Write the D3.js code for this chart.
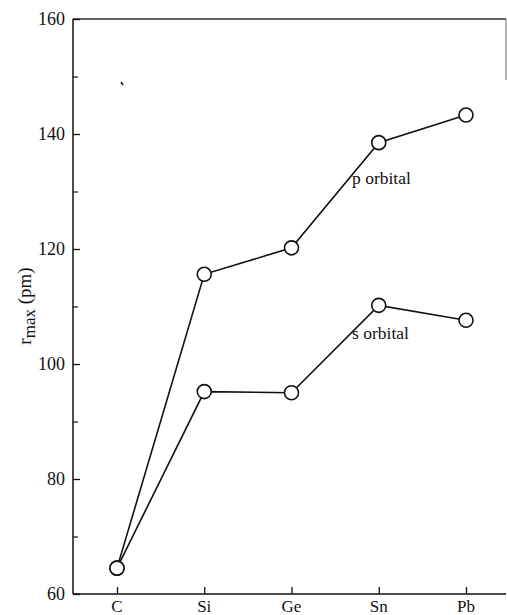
<!DOCTYPE html>
<html><head><meta charset="utf-8">
<script src="https://cdn.jsdelivr.net/npm/d3@7"></script>
<style>body{margin:0;background:#fff}svg{display:block}text{font-family:"Liberation Serif","DejaVu Serif",serif;fill:#111}</style>
</head><body><svg id="c" width="507" height="615"></svg>
<script>
const categories = ["C","Si","Ge","Sn","Pb"];
const pOrbital = [64.5, 115.6, 120.2, 138.5, 143.3];
const sOrbital = [64.5, 95.2, 95.0, 110.2, 107.6];
const yTicks = [60, 80, 100, 120, 140, 160];
const yMinorTicks = [70, 90, 110, 130, 150];
const seriesLabels = ["p orbital", "s orbital"];

(function(){
const svg = d3.select("#c");
const L = 73, R = 506, T = 19, B = 594;
const x = d3.scalePoint().domain(categories).range([117, 466]);
const y = d3.scaleLinear().domain([60,160]).range([B, T]);

// frame
svg.append("line").attr("x1",L).attr("x2",L).attr("y1",T).attr("y2",B).attr("stroke","#111").attr("stroke-width",1.5);
svg.append("line").attr("x1",L).attr("x2",R).attr("y1",B).attr("y2",B).attr("stroke","#111").attr("stroke-width",1.5);
svg.append("line").attr("x1",L).attr("x2",R).attr("y1",T).attr("y2",T).attr("stroke","#333").attr("stroke-width",1.5);
svg.append("line").attr("x1",R).attr("x2",R).attr("y1",T).attr("y2",80).attr("stroke","#666").attr("stroke-width",1);

// y axis
const yAxis = d3.axisRight(y).tickValues(yTicks).tickSize(7).tickFormat("");
const ga = svg.append("g").attr("transform",`translate(${L},0)`).call(yAxis);
ga.select(".domain").remove();
ga.selectAll("line").attr("stroke","#111").attr("stroke-width",1.3);
const yMinor = d3.axisRight(y).tickValues(yMinorTicks).tickSize(5).tickFormat("");
const gm = svg.append("g").attr("transform",`translate(${L},0)`).call(yMinor);
gm.select(".domain").remove();
gm.selectAll("line").attr("stroke","#111").attr("stroke-width",1.2);
svg.selectAll(".ylab").data(yTicks).join("text")
  .attr("x", L-8).attr("y", d=>y(d)+6).attr("text-anchor","end")
  .attr("font-size",18).text(d=>d);

// x axis
const xAxis = d3.axisTop(x).tickSize(7).tickFormat("");
const gx = svg.append("g").attr("transform",`translate(0,${B})`).call(xAxis);
gx.select(".domain").remove();
gx.selectAll("line").attr("stroke","#111").attr("stroke-width",1.3);
svg.selectAll(".xlab").data(categories).join("text")
  .attr("x", d=>x(d)).attr("y", B+18).attr("text-anchor","middle")
  .attr("font-size",17).text(d=>d);

// y label
const yl = svg.append("text").attr("transform","translate(31,306) rotate(-90)")
  .attr("text-anchor","middle").attr("font-size",19);
yl.append("tspan").text("r");
yl.append("tspan").attr("font-size",17).attr("dy",4).text("max");
yl.append("tspan").attr("dy",-4).text(" (pm)");

// lines
const line = d3.line().x((d,i)=>x(categories[i])).y(d=>y(d));
[pOrbital, sOrbital].forEach(s=>{
  svg.append("path").datum(s).attr("d",line).attr("fill","none").attr("stroke","#111").attr("stroke-width",1.6);
});
[pOrbital, sOrbital].forEach(s=>{
  svg.append("g").selectAll("circle").data(s).join("circle")
    .attr("cx",(d,i)=>x(categories[i])).attr("cy",d=>y(d)).attr("r",7)
    .attr("fill","#fff").attr("stroke","#111").attr("stroke-width",1.6);
});

// series labels
svg.append("text").attr("x",352).attr("y",y(131.3)).attr("font-size",17.5).text(seriesLabels[0]);
svg.append("text").attr("x",352).attr("y",y(104.3)).attr("font-size",17.5).text(seriesLabels[1]);

// speck
svg.append("line").attr("x1",121).attr("y1",82).attr("x2",123).attr("y2",85).attr("stroke","#111").attr("stroke-width",1.5);
})();
</script></body></html>
